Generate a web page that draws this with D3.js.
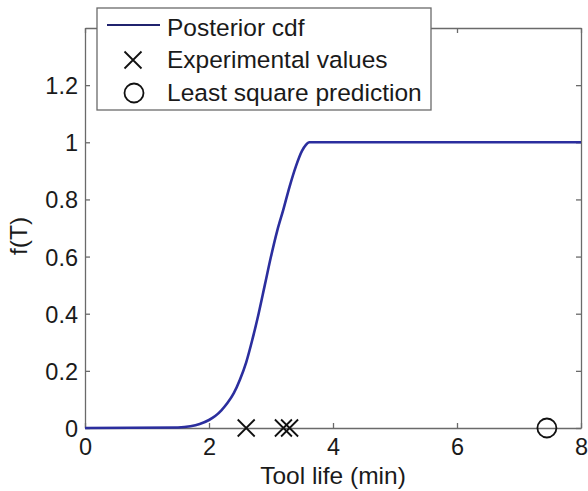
<!DOCTYPE html>
<html>
<head>
<meta charset="utf-8">
<script src="https://cdn.jsdelivr.net/npm/d3@7"></script>
<style>
  html, body { margin: 0; padding: 0; background: #fff; }
  svg { display: block; }
  text { font-family: "Liberation Sans", Arial, Helvetica, sans-serif; fill: #1a1a1a; }
</style>
</head>
<body>
<svg id="chart" width="588" height="491"></svg>
<script>
// ---- data ----
const cdfT = [0, 1.5, 1.7, 1.85, 2.0, 2.1, 2.2, 2.3, 2.4, 2.5, 2.6, 2.7, 2.8, 2.9, 3.0, 3.1, 3.2, 3.3, 3.4, 3.5, 3.56, 3.62, 3.75, 8];
const cdfF = [0, 0.002, 0.006, 0.014, 0.028, 0.042, 0.062, 0.088, 0.122, 0.17, 0.23, 0.31, 0.40, 0.50, 0.60, 0.69, 0.765, 0.845, 0.915, 0.97, 0.99, 1.0, 1.0, 1.0];
const experimental = [2.6, 3.2, 3.3];
const leastSquare = [7.45];
const xTicks = [0, 2, 4, 6, 8];
const yTicks = [0, 0.2, 0.4, 0.6, 0.8, 1, 1.2];
const legendLabels = ["Posterior cdf", "Experimental values", "Least square prediction"];

// ---- layout ----
const L = 85, R = 581, T = 28, B = 428;
const axisColor = "#6a6a6a";
const lineColor = "#2b2e9e";

const svg = d3.select("#chart");
const x = d3.scaleLinear().domain([0, 8]).range([L, R]);
const y = d3.scaleLinear().domain([0, 1.4]).range([B, T]);

function styleAxis(g) {
  g.selectAll("path.domain").attr("stroke", axisColor).attr("stroke-width", 1.3);
  g.selectAll(".tick line").attr("stroke", axisColor).attr("stroke-width", 1.3);
  g.selectAll("text").attr("fill", "#1a1a1a").style("font-size", "23.5px")
    .style("font-family", '"Liberation Sans", Arial, sans-serif');
}

// bottom axis
const gx = svg.append("g").attr("transform", `translate(0,${B})`)
  .call(d3.axisBottom(x).tickValues(xTicks).tickFormat(d3.format("~g"))
    .tickSizeInner(-5).tickSizeOuter(0).tickPadding(10));
styleAxis(gx);
// left axis
const gy = svg.append("g").attr("transform", `translate(${L},0)`)
  .call(d3.axisLeft(y).tickValues(yTicks).tickFormat(d3.format("~g"))
    .tickSizeInner(-5).tickSizeOuter(0).tickPadding(7));
styleAxis(gy);
gy.selectAll("text").attr("dy", "0.36em");
// top axis (mirror)
const gt = svg.append("g").attr("transform", `translate(0,${T})`)
  .call(d3.axisTop(x).tickValues(xTicks).tickFormat("").tickSizeInner(-5).tickSizeOuter(0));
styleAxis(gt);
// right axis (mirror)
const gr = svg.append("g").attr("transform", `translate(${R},0)`)
  .call(d3.axisRight(y).tickValues(yTicks).tickFormat("").tickSizeInner(-5).tickSizeOuter(0));
styleAxis(gr);

// curve
const pts = cdfT.map((t, i) => [t, cdfF[i]]);
svg.append("path")
  .datum(pts)
  .attr("fill", "none")
  .attr("stroke", lineColor)
  .attr("stroke-width", 2.6)
  .attr("stroke-linejoin", "round")
  .attr("d", d3.line().x(d => x(d[0])).y(d => y(d[1])).curve(d3.curveMonotoneX));

// markers
const xm = 8.5;
function crossPath(cx, cy, s) {
  return `M${cx - s},${cy - s}L${cx + s},${cy + s}M${cx - s},${cy + s}L${cx + s},${cy - s}`;
}
svg.append("g").selectAll("path").data(experimental).join("path")
  .attr("d", d => crossPath(x(d), y(0), xm))
  .attr("stroke", "#111").attr("stroke-width", 1.8).attr("fill", "none");
svg.append("g").selectAll("circle").data(leastSquare).join("circle")
  .attr("cx", d => x(d)).attr("cy", y(0)).attr("r", 9.5)
  .attr("stroke", "#111").attr("stroke-width", 1.8).attr("fill", "none");

// axis labels
svg.append("text").attr("x", (L + R) / 2).attr("y", 484)
  .attr("text-anchor", "middle").style("font-size", "24.5px").text("Tool life (min)");
svg.append("text").attr("transform", "translate(27,236) rotate(-90)")
  .attr("text-anchor", "middle").style("font-size", "24.5px").text("f(T)");

// legend
const lg = svg.append("g");
lg.append("rect").attr("x", 97).attr("y", 8).attr("width", 334).attr("height", 102)
  .attr("fill", "#fff").attr("stroke", axisColor).attr("stroke-width", 1.3);
const rowY = [25, 60, 93];
const baseY = [36, 68, 101];
lg.append("line").attr("x1", 107).attr("x2", 160).attr("y1", rowY[0]).attr("y2", rowY[0])
  .attr("stroke", "#20236e").attr("stroke-width", 2.2);
lg.append("path").attr("d", crossPath(133, rowY[1], xm))
  .attr("stroke", "#111").attr("stroke-width", 1.8).attr("fill", "none");
lg.append("circle").attr("cx", 134).attr("cy", rowY[2]).attr("r", 9.5)
  .attr("stroke", "#111").attr("stroke-width", 1.8).attr("fill", "none");
lg.selectAll("text.lab").data(legendLabels).join("text")
  .attr("class", "lab")
  .attr("x", 167).attr("y", (d, i) => baseY[i])
  .style("font-size", "24.5px").text(d => d);
</script>
</body>
</html>
